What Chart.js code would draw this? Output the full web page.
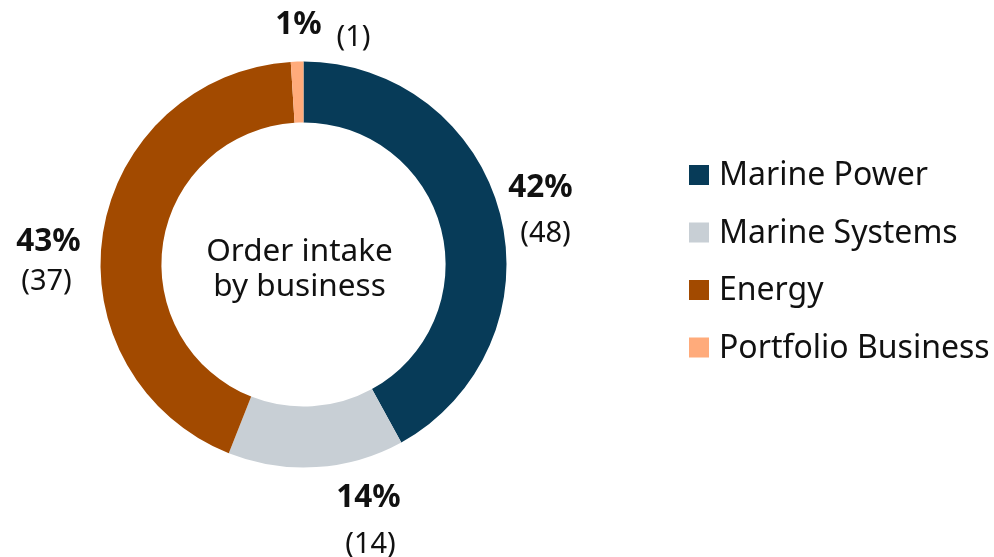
<!DOCTYPE html>
<html>
<head>
<meta charset="utf-8">
<script src="https://cdn.jsdelivr.net/npm/chart.js@4.4.0/dist/chart.umd.min.js"></script>
<style>
  body { margin: 0; background: #fff; }
</style>
</head>
<body>
<canvas id="orderChart" width="994" height="557"></canvas>
<script>
// данные диаграммы
const businesses = ['Marine Power', 'Marine Systems', 'Energy', 'Portfolio Business']
const shares = [42, 14, 43, 1]
const amounts = [48, 14, 37, 1]
const colors = ['#073b58', '#c8cfd5', '#a24a00', '#ffab7b']
const centerLines = ['Order intake', 'by business']

const font = '"Noto Sans", "Open Sans", sans-serif'
const textColor = '#111111'

// подписи: смещения от центра кольца (процент и число в скобках)
const labelSpots = [
    { px: 237, py: -68, nx: 242, ny: -23 },
    { px: 65, py: 242, nx: 67, ny: 288 },
    { px: -255, py: -14, nx: -257, ny: 25 },
    { px: -5, py: -231, nx: 50, ny: -219 }
]

// текст в центре кольца
const centerText = {
    id: 'centerText',
    afterDatasetsDraw(chart) {
        const arc = chart.getDatasetMeta(0).data[0]
        const c = chart.ctx
        c.save()
        c.fillStyle = textColor
        c.font = '31.5px ' + font
        c.textAlign = 'center'
        c.textBaseline = 'alphabetic'
        c.fillText(centerLines[0], arc.x - 4, arc.y - 4)
        c.fillText(centerLines[1], arc.x - 4, arc.y + 31)
        c.restore()
    }
}

// подписи долей снаружи кольца
const sliceLabels = {
    id: 'sliceLabels',
    afterDatasetsDraw(chart) {
        const arc = chart.getDatasetMeta(0).data[0]
        const c = chart.ctx
        const values = chart.data.datasets[0].data
        c.save()
        c.fillStyle = textColor
        c.textAlign = 'center'
        c.textBaseline = 'alphabetic'
        for (let i = 0; i < values.length; i++) {
            const s = labelSpots[i]
            c.font = 'bold 31.5px ' + font
            c.fillText(values[i] + '%', arc.x + s.px, arc.y + s.py)
            c.font = '29px ' + font
            c.fillText('(' + amounts[i] + ')', arc.x + s.nx, arc.y + s.ny)
        }
        c.restore()
    }
}

// легенда справа
const sideLegend = {
    id: 'sideLegend',
    afterDraw(chart) {
        const c = chart.ctx
        const ds = chart.data.datasets[0]
        c.save()
        c.font = '32px ' + font
        c.textBaseline = 'alphabetic'
        c.textAlign = 'left'
        for (let i = 0; i < chart.data.labels.length; i++) {
            const base = 185 + i * 57.5
            c.fillStyle = ds.backgroundColor[i]
            c.fillRect(689, base - 20, 20, 20)
            c.fillStyle = textColor
            c.fillText(chart.data.labels[i], 719, base)
        }
        c.restore()
    }
}

const ctx = document.getElementById('orderChart').getContext('2d')

new Chart(ctx, {
    type: 'doughnut',
    data: {
        labels: businesses,
        datasets: [{
            data: shares,
            backgroundColor: colors,
            borderWidth: 0
        }]
    },
    options: {
        responsive: false,
        animation: false,
        cutout: '70%',
        layout: {
            padding: { top: 61.5, bottom: 89.5, left: 100.5, right: 487.5 }
        },
        plugins: {
            legend: { display: false },
            tooltip: { enabled: false }
        }
    },
    plugins: [centerText, sliceLabels, sideLegend]
})
</script>
</body>
</html>
